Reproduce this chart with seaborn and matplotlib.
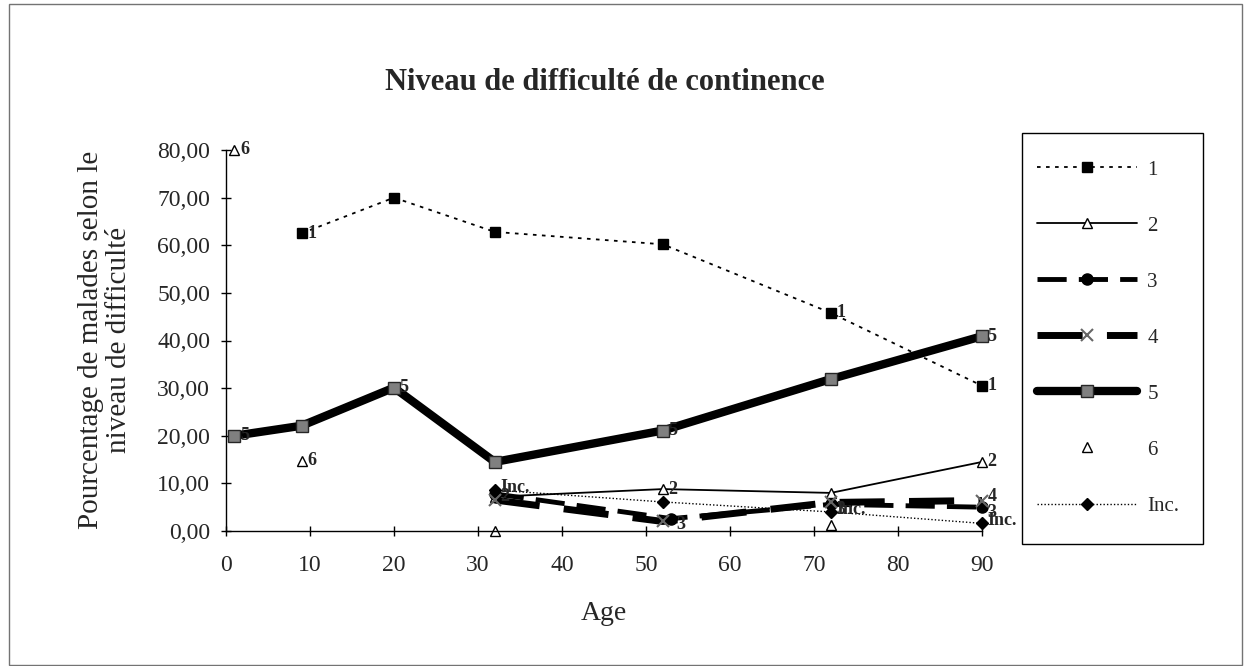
import matplotlib
matplotlib.use("Agg")
import matplotlib.pyplot as plt
import seaborn as sns
from matplotlib.patches import Rectangle

# values (age, % of patients)
ages_1 = [9, 20, 32, 52, 72, 90]
vals_1 = [62.5, 70.0, 62.8, 60.2, 45.8, 30.5]
ages_2 = [32, 52, 72, 90]
vals_2 = [7.2, 8.8, 8.0, 14.5]
ages_3 = [32, 53, 72, 90]
vals_3 = [7.8, 2.6, 5.6, 5.0]
ages_4 = [32, 52, 72, 90]
vals_4 = [6.5, 2.0, 6.0, 6.4]
ages_5 = [1, 9, 20, 32, 52, 72, 90]
vals_5 = [20.0, 22.1, 30.1, 14.5, 21.1, 31.9, 40.9]
ages_6 = [1, 9, 32, 72]
vals_6 = [80.0, 14.8, 0.0, 1.2]
ages_inc = [32, 52, 72, 90]
vals_inc = [8.6, 6.1, 4.0, 1.6]

series_names = ['1', '2', '3', '4', '5', '6', 'Inc.']
# ages where the series name is written next to the point
label_ages = {'1': [9, 72, 90], '2': [32, 52, 90], '3': [53, 72, 90], '4': [90],
              '5': [1, 20, 52, 90], '6': [1, 9], 'Inc.': [32, 72, 90]}

x_ticks = [0, 10, 20, 30, 40, 50, 60, 70, 80, 90]
y_ticks = [0, 10, 20, 30, 40, 50, 60, 70, 80]
y_tick_labels = ['0,00', '10,00', '20,00', '30,00', '40,00', '50,00', '60,00', '70,00', '80,00']

sns.set_style('white')
plt.rcParams['font.family'] = ['Liberation Serif', 'DejaVu Serif']

W, H = 1244, 666
fig = plt.figure(figsize=(W / 100, H / 100), dpi=100)
ax = fig.add_axes([226 / W, 1 - 531 / H, (982 - 226) / W, (531 - 150) / H])

styles = {
    '1': dict(ls=(0, (2, 3)), lw=1.3, marker='s', ms=7, mfc='black', mec='black'),
    '2': dict(ls='-', lw=1.3, marker='^', ms=7, mfc='white', mec='black'),
    '3': dict(ls=(0, (6, 2.5)), lw=3.5, marker='o', ms=8, mfc='black', mec='black'),
    '4': dict(ls=(0, (6.5, 3.5)), lw=5, marker='x', ms=8, mfc='black', mec='0.4', mew=1.5),
    '5': dict(ls='-', lw=6, marker='s', ms=8, mfc='0.5', mec='0.15', mew=1),
    '6': dict(ls='', lw=1, marker='^', ms=7, mfc='white', mec='black'),
    'Inc.': dict(ls=(0, (1, 1.5)), lw=1, marker='D', ms=6, mfc='black', mec='black'),
}
# small vertical nudge of the data labels (points)
label_dy = {'1': 0, '2': 0, '3': -4, '4': 3, '5': 0, '6': 0, 'Inc.': 2}

data = {'1': (ages_1, vals_1), '2': (ages_2, vals_2), '3': (ages_3, vals_3),
        '4': (ages_4, vals_4), '5': (ages_5, vals_5), '6': (ages_6, vals_6),
        'Inc.': (ages_inc, vals_inc)}

for name in series_names:
    xs, ys = data[name]
    st = styles[name]
    sns.lineplot(x=xs, y=ys, ax=ax, color='black', linestyle=st['ls'], linewidth=st['lw'],
                 marker=st['marker'], markersize=st['ms'], markerfacecolor=st['mfc'],
                 markeredgecolor=st['mec'], markeredgewidth=st.get('mew', 1),
                 label=name, clip_on=False, sort=False)
    for a in label_ages[name]:
        v = ys[xs.index(a)]
        ax.annotate(name, (a, v), xytext=(4, label_dy[name]), textcoords='offset points',
                    ha='left', va='center', fontsize=13, fontweight='bold',
                    annotation_clip=False, zorder=5)

if ax.get_legend() is not None:
    ax.get_legend().remove()

ax.set_xlim(0, 90)
ax.set_ylim(0, 80)
ax.set_xticks(x_ticks)
ax.set_yticks(y_ticks)
ax.set_yticklabels(y_tick_labels)
ax.tick_params(axis='both', which='both', bottom=True, left=True, direction='inout',
               length=7, width=1, color='black', labelsize=17)
ax.tick_params(axis='y', pad=8)
ax.tick_params(axis='x', pad=14)
for s in ['top', 'right']:
    ax.spines[s].set_visible(False)
for s in ['left', 'bottom']:
    ax.spines[s].set_color('black')
    ax.spines[s].set_linewidth(1)
ax.set_xlabel('')
ax.set_ylabel('')

fig.text(605 / W, 1 - 82 / H, 'Niveau de difficulté de continence', ha='center', va='center',
         fontsize=22, fontweight='bold')
fig.text(604 / W, 1 - 613 / H, 'Age', ha='center', va='center', fontsize=20)
fig.text(105 / W, 1 - 340 / H, 'Pourcentage de malades selon le\nniveau de difficulté',
         ha='center', va='center', rotation=90, fontsize=21, linespacing=1.1)

handles, labels = ax.get_legend_handles_labels()
fig.legend(handles, labels, loc='upper left', bbox_to_anchor=(1037 / W, 1 - 160 / H),
           frameon=False, fontsize=15, handlelength=4.8, handletextpad=0.5,
           labelspacing=1.75, borderpad=0, borderaxespad=0)

# legend box and chart-area border
fig.patches.append(Rectangle((1022 / W, 1 - 544 / H), (1203 - 1022) / W, (544 - 133) / H,
                             transform=fig.transFigure, fill=False, ec='black', lw=1))
fig.patches.append(Rectangle((9 / W, 1 / H), (1242 - 9) / W, (661) / H,
                             transform=fig.transFigure, fill=False, ec='0.45', lw=1))

fig.savefig('out.png', dpi=100)
